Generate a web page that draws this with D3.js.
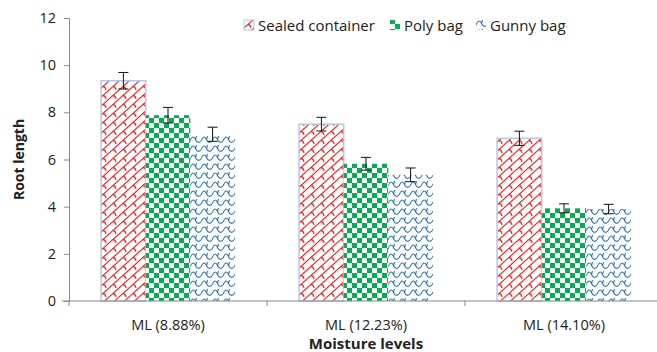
<!DOCTYPE html>
<html>
<head>
<meta charset="utf-8">
<script src="https://cdn.jsdelivr.net/npm/d3@7"></script>
<style>
  body { margin: 0; background: #fff; }
  svg text { font-family: "Open Sans", "Liberation Sans", sans-serif; fill: #222; }
</style>
</head>
<body>
<div id="chart"></div>
<script>
// 类别与数据
const categories = ['ML (8.88%)', 'ML (12.23%)', 'ML (14.10%)'];
const seriesNames = ['Sealed container', 'Poly bag', 'Gunny bag'];
const sealedValues = [9.34, 7.5, 6.9];
const polyValues = [7.88, 5.82, 3.93];
const gunnyValues = [7.07, 5.35, 3.9];
const sealedErr = [0.35, 0.29, 0.3];
const polyErr = [0.33, 0.27, 0.19];
const gunnyErr = [0.3, 0.29, 0.2];
const yTicks = [0, 2, 4, 6, 8, 10, 12];

const width = 657, height = 352;
const margin = { top: 18, right: -6, bottom: 51, left: 69 };
const innerW = width - margin.left - margin.right;
const innerH = height - margin.top - margin.bottom;

const svg = d3.select('#chart').append('svg')
  .attr('width', width)
  .attr('height', height);

// 填充图案
const defs = svg.append('defs');

const pRed = defs.append('pattern').attr('id', 'pat-red')
  .attr('patternUnits', 'userSpaceOnUse').attr('width', 10).attr('height', 9);
pRed.append('rect').attr('width', 10).attr('height', 9).attr('fill', '#fff');
pRed.append('path').attr('d', 'M0,9 L10,0 M-1,1 L1,-1 M9,10 L11,8 M4,5.4 Q6.5,6 7,9')
  .attr('stroke', '#ff1a1a').attr('stroke-width', 1.1).attr('fill', 'none');

const pGreen = defs.append('pattern').attr('id', 'pat-green')
  .attr('patternUnits', 'userSpaceOnUse').attr('width', 10).attr('height', 10);
pGreen.append('rect').attr('width', 10).attr('height', 10).attr('fill', '#fff');
pGreen.append('rect').attr('width', 5).attr('height', 5).attr('fill', '#00b050');
pGreen.append('rect').attr('x', 5).attr('y', 5).attr('width', 5).attr('height', 5).attr('fill', '#00b050');

const pBlue = defs.append('pattern').attr('id', 'pat-blue')
  .attr('patternUnits', 'userSpaceOnUse').attr('width', 11).attr('height', 9);
pBlue.append('rect').attr('width', 11).attr('height', 9).attr('fill', '#fff');
pBlue.append('path').attr('d', 'M0,6 C2,1 4,1 5.5,4.5 S9,8 11,6 M5.5,4.5 L6.5,1')
  .attr('stroke', '#2e75b6').attr('stroke-width', 1.1).attr('fill', 'none');

const fills = ['url(#pat-red)', 'url(#pat-green)', 'url(#pat-blue)'];

const g = svg.append('g').attr('transform', `translate(${margin.left},${margin.top})`);

// 比例尺
const x0 = d3.scaleBand().domain(categories).range([0, innerW]).paddingInner(0).paddingOuter(0);
const x1 = d3.scaleBand().domain(seriesNames).range([0, x0.bandwidth()]).paddingInner(0).paddingOuter(0.72);
const y = d3.scaleLinear().domain([0, 12]).range([innerH, 0]);

const rows = categories.map((c, i) => ({
  cat: c,
  vals: [
    { name: seriesNames[0], v: sealedValues[i], e: sealedErr[i], k: 0 },
    { name: seriesNames[1], v: polyValues[i], e: polyErr[i], k: 1 },
    { name: seriesNames[2], v: gunnyValues[i], e: gunnyErr[i], k: 2 }
  ]
}));

// Y轴
const yAxis = g.append('g')
  .call(d3.axisLeft(y).tickValues(yTicks).tickSize(5).tickPadding(8));
yAxis.select('.domain').attr('stroke', '#888');
yAxis.selectAll('.tick line').attr('stroke', '#888');
yAxis.selectAll('.tick text').style('font-size', '14.5px').attr('fill', '#222');

// 柱子
const groups = g.selectAll('.grp').data(rows).enter().append('g')
  .attr('transform', d => `translate(${x0(d.cat)},0)`);

groups.selectAll('rect').data(d => d.vals).enter().append('rect')
  .attr('x', d => x1(d.name))
  .attr('y', d => y(d.v))
  .attr('width', x1.bandwidth())
  .attr('height', d => innerH - y(d.v))
  .attr('fill', d => fills[d.k])
  .attr('stroke', d => d.k === 0 ? '#b4c7e7' : 'none')
  .attr('stroke-width', 1.5);

// 误差线
const eb = groups.selectAll('.err').data(d => d.vals).enter().append('g')
  .attr('transform', d => `translate(${x1(d.name) + x1.bandwidth() / 2},0)`);
eb.append('line').attr('y1', d => y(d.v + d.e)).attr('y2', d => y(d.v - d.e))
  .attr('stroke', '#111').attr('stroke-width', 1);
eb.append('line').attr('x1', -5).attr('x2', 5).attr('y1', d => y(d.v + d.e)).attr('y2', d => y(d.v + d.e))
  .attr('stroke', '#111').attr('stroke-width', 1);
eb.append('line').attr('x1', -5).attr('x2', 5).attr('y1', d => y(d.v - d.e)).attr('y2', d => y(d.v - d.e))
  .attr('stroke', '#111').attr('stroke-width', 1);

// X轴
const xAxis = g.append('g').attr('transform', `translate(0,${innerH})`)
  .call(d3.axisBottom(x0).tickSize(0).tickPadding(19));
xAxis.select('.domain').remove();
xAxis.selectAll('.tick text').style('font-size', '14.5px').attr('fill', '#222');
g.append('line').attr('x1', -7).attr('x2', innerW).attr('y1', innerH).attr('y2', innerH)
  .attr('stroke', '#888');
g.selectAll('.xtick').data(categories).enter().append('line')
  .attr('x1', d => x0(d)).attr('x2', d => x0(d))
  .attr('y1', innerH).attr('y2', innerH + 5)
  .attr('stroke', '#888');

// 坐标轴标题
svg.append('text')
  .attr('transform', `translate(24,${margin.top + innerH / 2}) rotate(-90)`)
  .attr('text-anchor', 'middle')
  .style('font-size', '14px').style('font-weight', 'bold')
  .text('Root length');
svg.append('text')
  .attr('x', margin.left + 297).attr('y', 349)
  .attr('text-anchor', 'middle')
  .style('font-size', '15px').style('font-weight', 'bold')
  .text('Moisture levels');

// 图例
const legendX = [244, 390, 476];
const legend = svg.append('g').attr('transform', 'translate(0,19)');
const li = legend.selectAll('.li').data(seriesNames).enter().append('g')
  .attr('transform', (d, i) => `translate(${legendX[i]},0)`);
li.append('rect').attr('width', 10).attr('height', 10).attr('y', 1)
  .attr('fill', (d, i) => fills[i])
  .attr('stroke', (d, i) => i === 0 ? '#b4c7e7' : 'none');
li.append('text').attr('x', 14).attr('y', 11.5)
  .style('font-size', '15px')
  .text(d => d);
</script>
</body>
</html>
